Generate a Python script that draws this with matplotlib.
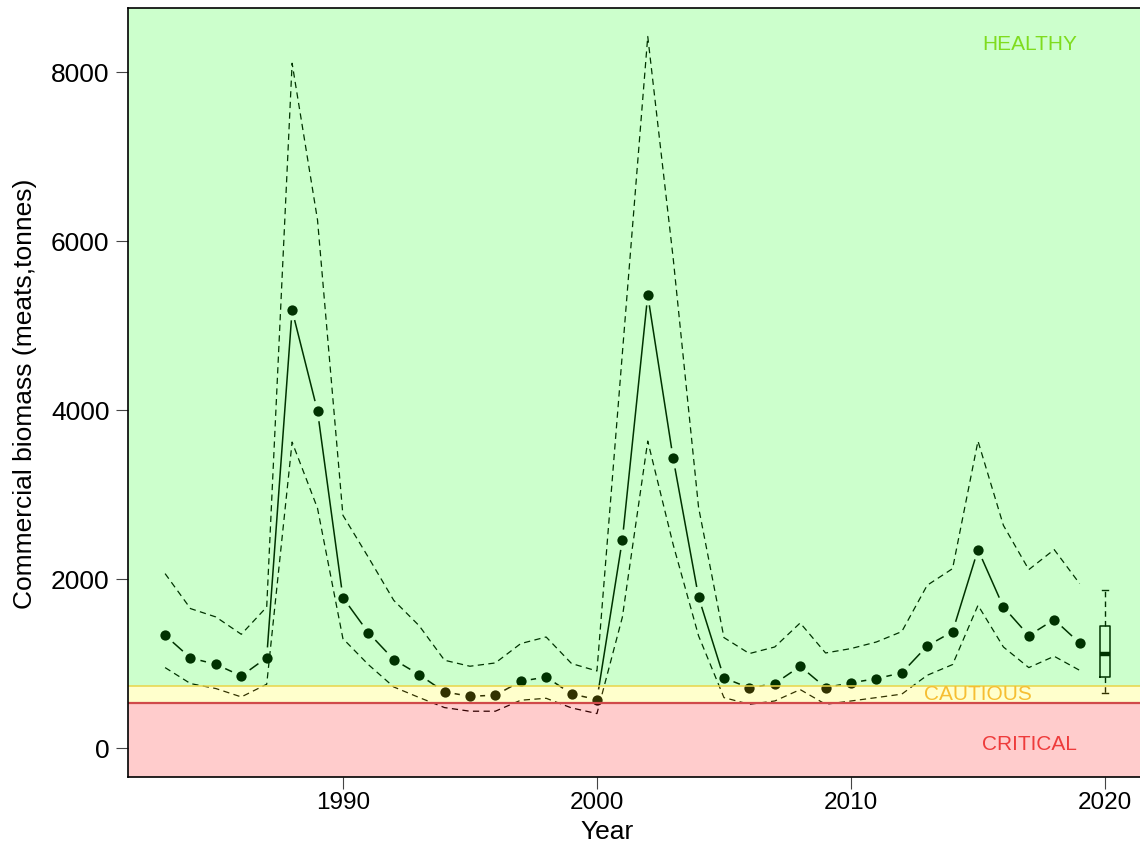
import numpy as np
import matplotlib
matplotlib.use('Agg')
import matplotlib.pyplot as plt

# ---------------- data ----------------
years = list(range(1983, 2020))
biomass = [1336, 1068, 993, 855, 1072, 5183, 3989, 1782, 1368, 1049,
           871, 666, 615, 627, 792, 843, 642, 576, 2466, 5360,
           3430, 1789, 832, 713, 765, 970, 718, 773, 824, 891,
           1210, 1380, 2350, 1671, 1333, 1522, 1245]
upper = [2066, 1652, 1553, 1348, 1671, 8104, 6250, 2756, 2260, 1750,
         1450, 1041, 970, 1009, 1238, 1316, 1002, 914, 4670, 8421,
         5800, 2850, 1309, 1120, 1198, 1482, 1127, 1179, 1257, 1380,
         1928, 2125, 3634, 2637, 2113, 2350, 1948]
lower = [954, 765, 706, 607, 757, 3622, 2839, 1297, 990, 725,
         600, 481, 438, 438, 568, 591, 477, 410, 1550, 3634,
         2410, 1330, 599, 520, 559, 694, 520, 559, 599, 640,
         863, 990, 1691, 1198, 954, 1088, 922]
box_year = 2020
box_stats = dict(whislo=654, q1=840, med=1112, q3=1450, whishi=1875)
lrp = 530
usr = 742
xticks = [1990, 2000, 2010, 2020]
yticks = [0, 2000, 4000, 6000, 8000]
zone_labels = ['HEALTHY', 'CAUTIOUS', 'CRITICAL']
xlabel = 'Year'
ylabel = 'Commercial biomass (meats,tonnes)'

# ---------------- figure ----------------
W, H = 1140, 844
fig = plt.figure(figsize=(W / 100, H / 100), dpi=100)
fig.patch.set_facecolor('white')
ax = fig.add_axes([127.5 / W, (H - 776.7) / H, (1142.6 - 127.5) / W, (776.7 - 8) / H])
xlim = (1981.52, 2021.48)
ylim = (-336.8, 8757.8)
ax.set_xlim(*xlim)
ax.set_ylim(*ylim)

# CI lines
ax.plot(years, upper, color='black', lw=0.9, dashes=(5, 3.5), zorder=2)
ax.plot(years, lower, color='black', lw=0.9, dashes=(5, 3.5), zorder=2)

# main series as R type="b" (segments with gaps around points)
pts = ax.transData.transform(np.column_stack([years, biomass]))
inv = ax.transData.inverted()
gap = 11.0
for p0, p1 in zip(pts[:-1], pts[1:]):
    d = p1 - p0
    L = np.hypot(d[0], d[1])
    if L > 2 * gap:
        u = d / L
        a = inv.transform(p0 + u * gap)
        b = inv.transform(p1 - u * gap)
        ax.plot([a[0], b[0]], [a[1], b[1]], color='black', lw=1.1, zorder=3)
ax.plot(years, biomass, 'o', color='black', ms=7.4, mec='none', zorder=4)

# boxplot for projection year
ax.bxp([box_stats], positions=[box_year], widths=0.42, capwidths=0.26,
       showfliers=False, manage_ticks=False,
       boxprops=dict(color='black', lw=1.1),
       whiskerprops=dict(color='black', lw=1.0, linestyle=(0, (4, 3))),
       capprops=dict(color='black', lw=1.0),
       medianprops=dict(color='black', lw=3.2), zorder=3)

# translucent zones drawn on top
ax.axhspan(ylim[0], lrp, facecolor=(1, 0, 0), alpha=0.2, lw=0, zorder=6)
ax.axhspan(lrp, usr, facecolor=(1, 1, 0), alpha=0.2, lw=0, zorder=6)
ax.axhspan(usr, ylim[1], facecolor=(0, 1, 0), alpha=0.2, lw=0, zorder=6)
ax.axhline(usr, color='#E8D44A', lw=1.1, zorder=7)
ax.axhline(lrp, color='#D04A4A', lw=1.6, zorder=7)

# zone labels
ax.text(2017.03, 8328, zone_labels[0], color='#7FDC1E', fontsize=15,
        family='Liberation Sans', ha='center', va='center', zorder=8)
ax.text(2015.0, 630, zone_labels[1], color='#F6BE32', fontsize=15,
        family='Liberation Sans', ha='center', va='center', zorder=8)
ax.text(2017.03, 47, zone_labels[2], color='#EE3B3B', fontsize=15,
        family='Liberation Sans', ha='center', va='center', zorder=8)

# axes styling
for s in ['left', 'bottom', 'top']:
    ax.spines[s].set_color('black')
    ax.spines[s].set_linewidth(1.2)
    ax.spines[s].set_zorder(9)
ax.spines['right'].set_visible(False)

ax.set_xticks(xticks)
ax.set_yticks(yticks)
ax.set_xticklabels([str(t) for t in xticks], family='Liberation Sans', fontsize=17.5)
ax.set_yticklabels([str(t) for t in yticks], family='Liberation Sans', fontsize=19)
ax.tick_params(axis='both', direction='out', length=8.6, width=0.8, color='#444444')
ax.tick_params(axis='x', pad=2.2)
ax.tick_params(axis='y', pad=4.3)

fig.text(25 / W, (H - 394) / H, ylabel, rotation=90, ha='center', va='center',
         family='Liberation Sans', fontsize=19)
fig.text(607 / W, (H - 839) / H, xlabel, ha='center', va='baseline',
         family='Liberation Sans', fontsize=19)

fig.savefig('out.png', dpi=100)
